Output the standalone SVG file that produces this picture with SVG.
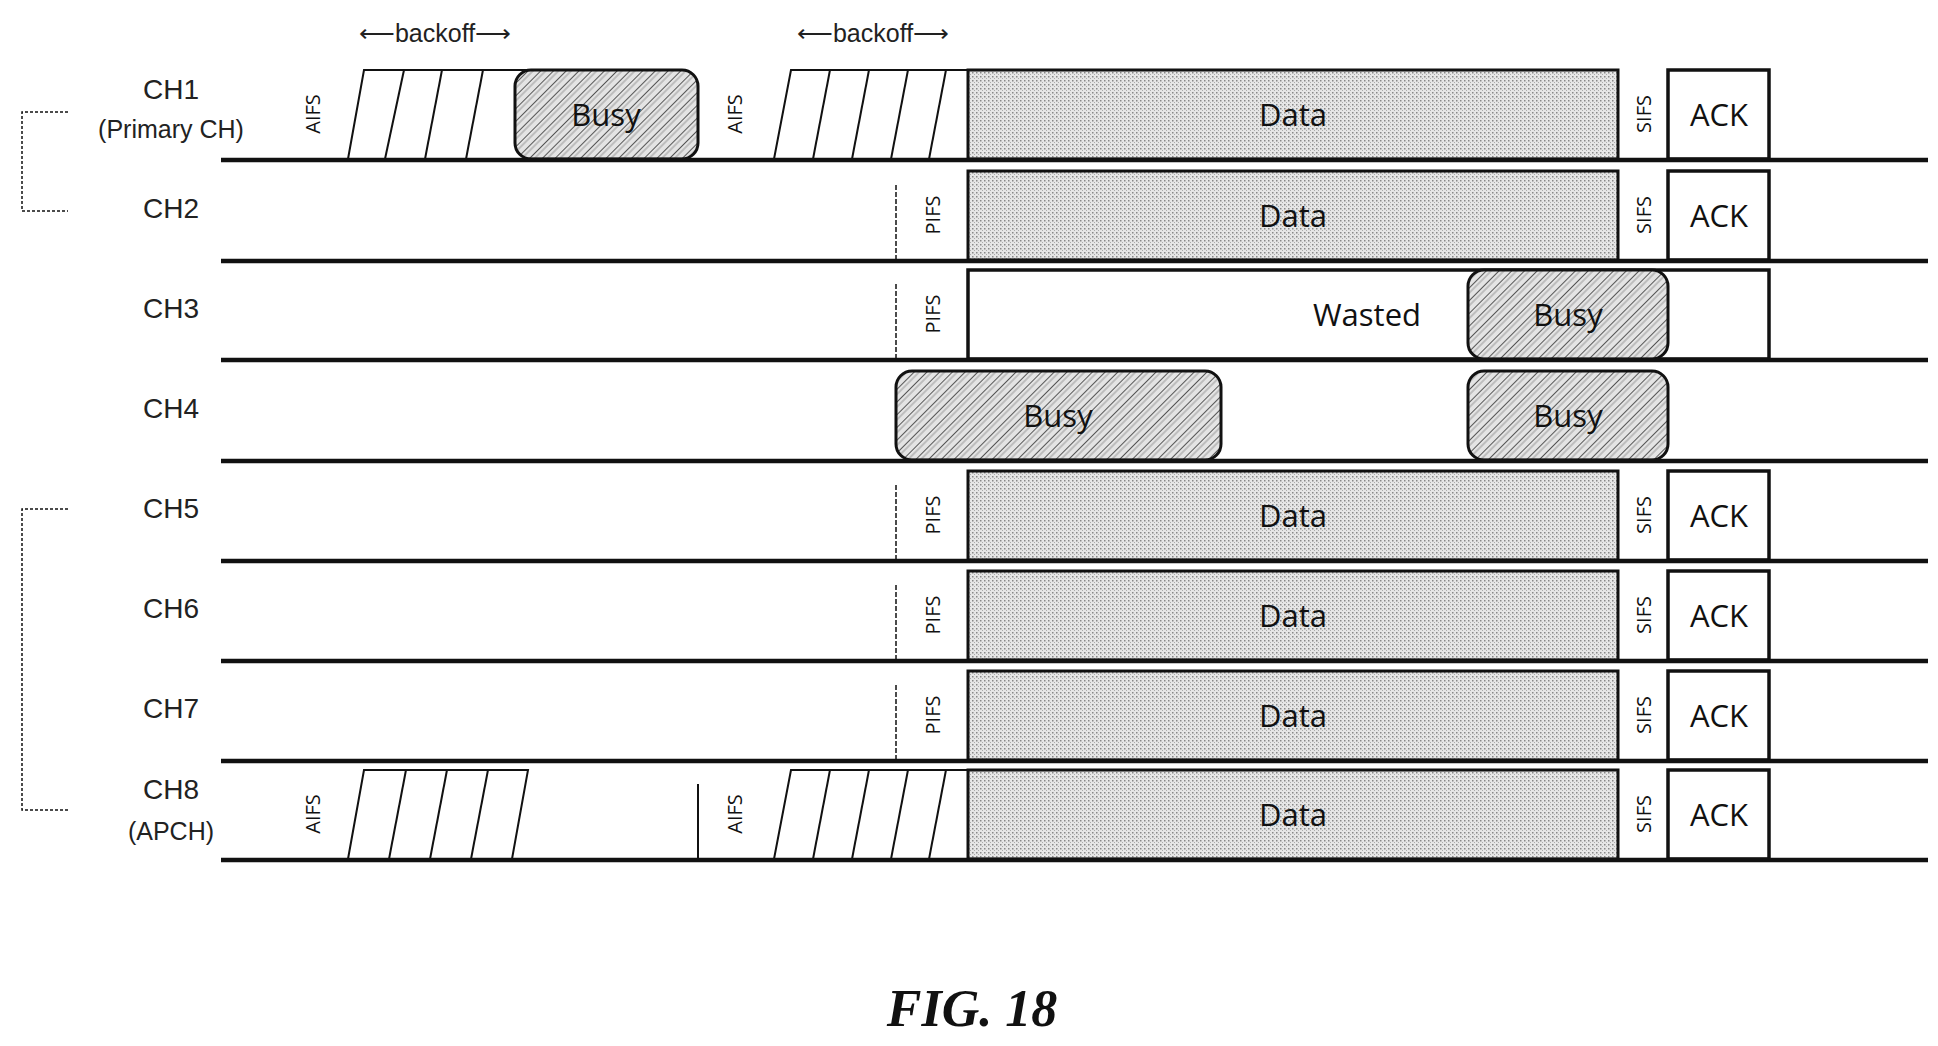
<svg xmlns="http://www.w3.org/2000/svg" width="1938" height="1046" viewBox="0 0 1938 1046">
<style>
.lbl{font-family:"Liberation Sans",Arial,sans-serif;font-size:28px;fill:#222;text-anchor:middle}
.sm{font-family:"Liberation Sans",Arial,sans-serif;font-size:25px;fill:#222;text-anchor:middle}
.box{font-family:"Open Sans","DejaVu Sans",sans-serif;font-size:31px;fill:#111;text-anchor:middle}
.rot{font-family:"Open Sans","DejaVu Sans",sans-serif;font-size:20px;fill:#111;text-anchor:middle}
.base{stroke:#111;stroke-width:4.5}
.data{fill:url(#dots);stroke:#111;stroke-width:3}
.ack{fill:#fff;stroke:#111;stroke-width:3.5}
.busy{fill:url(#hatch);stroke:#111;stroke-width:3}
.bo{fill:#fff;stroke:#111;stroke-width:2}
.sl{stroke:#111;stroke-width:2}
.dash{stroke:#111;stroke-width:1.5;stroke-dasharray:5 2}
.br{fill:none;stroke:#111;stroke-width:1.5;stroke-dasharray:3 2}
</style>
<defs>
<pattern id="dots" width="4" height="4" patternUnits="userSpaceOnUse">
<rect width="4" height="4" fill="#e6e6e6"/><rect width="1.5" height="1.5" fill="#888"/><rect x="2" y="2" width="1" height="1" fill="#aaa"/>
</pattern>
<pattern id="hatch" width="9" height="9" patternUnits="userSpaceOnUse" patternTransform="rotate(45)">
<rect width="9" height="9" fill="#e4e4e4"/><line x1="0" y1="0" x2="0" y2="9" stroke="#555" stroke-width="2"/><line x1="4" y1="0" x2="4" y2="9" stroke="#999" stroke-width="1"/>
</pattern>
</defs>
<rect width="1938" height="1046" fill="#fff"/>
<g id="labels">
<text class="sm" x="435" y="42">⟵backoff⟶</text>
<text class="sm" x="873" y="42">⟵backoff⟶</text>
<text class="lbl" x="171" y="99">CH1</text>
<text class="sm" x="171" y="138">(Primary CH)</text>
<text class="lbl" x="171" y="218">CH2</text>
<text class="lbl" x="171" y="318">CH3</text>
<text class="lbl" x="171" y="418">CH4</text>
<text class="lbl" x="171" y="518">CH5</text>
<text class="lbl" x="171" y="618">CH6</text>
<text class="lbl" x="171" y="718">CH7</text>
<text class="lbl" x="171" y="799">CH8</text>
<text class="sm" x="171" y="840">(APCH)</text>
<path class="br" d="M68,112 H22 V211 H68"/>
<path class="br" d="M68,509 H22 V810 H68"/>
<text x="972" y="1026" style="font-family:'Liberation Serif',serif;font-size:52px;font-weight:bold;font-style:italic;text-anchor:middle;fill:#111">FIG. 18</text>
</g>
<g id="ch1">
<text class="rot" transform="translate(313,114) rotate(-90)" dy="7">AIFS</text>
<polygon class="bo" points="348,159 364,70 540,70 540,159"/>
<line class="sl" x1="385" y1="159" x2="404" y2="70"/><line class="sl" x1="425" y1="159" x2="442" y2="70"/><line class="sl" x1="466" y1="159" x2="483" y2="70"/>
<rect class="busy" x="515" y="70" width="183" height="89" rx="16"/>
<text class="box" x="606" y="126">Busy</text>
<text class="rot" transform="translate(735,114) rotate(-90)" dy="7">AIFS</text>
<polygon class="bo" points="774,159 791,70 968,70 968,159"/>
<line class="sl" x1="813" y1="159" x2="830" y2="70"/><line class="sl" x1="852" y1="159" x2="869" y2="70"/><line class="sl" x1="891" y1="159" x2="908" y2="70"/><line class="sl" x1="929" y1="159" x2="946" y2="70"/>
<rect class="data" x="968" y="70" width="650" height="89"/><text class="box" x="1293" y="126">Data</text>
<text class="rot" transform="translate(1644,114) rotate(-90)" dy="7">SIFS</text>
<rect class="ack" x="1668" y="70" width="101" height="89"/><text class="box" x="1719" y="126">ACK</text>
</g>
<g id="ch2">
<line class="dash" x1="896" y1="185" x2="896" y2="260"/>
<text class="rot" transform="translate(933,215) rotate(-90)" dy="7">PIFS</text>
<rect class="data" x="968" y="171" width="650" height="89"/><text class="box" x="1293" y="227">Data</text>
<text class="rot" transform="translate(1644,215) rotate(-90)" dy="7">SIFS</text>
<rect class="ack" x="1668" y="171" width="101" height="89"/><text class="box" x="1719" y="227">ACK</text>
</g>
<g id="ch3">
<line class="dash" x1="896" y1="284" x2="896" y2="359"/>
<text class="rot" transform="translate(933,314) rotate(-90)" dy="7">PIFS</text>
<rect class="ack" x="968" y="270" width="801" height="89"/>
<text class="box" x="1367" y="326">Wasted</text>
<rect class="busy" x="1468" y="270" width="200" height="89" rx="16"/><text class="box" x="1568" y="326">Busy</text>
</g>
<g id="ch4">
<rect class="busy" x="896" y="371" width="325" height="89" rx="16"/><text class="box" x="1058" y="427">Busy</text>
<rect class="busy" x="1468" y="371" width="200" height="89" rx="16"/><text class="box" x="1568" y="427">Busy</text>
</g>
<g id="ch5">
<line class="dash" x1="896" y1="485" x2="896" y2="560"/>
<text class="rot" transform="translate(933,515) rotate(-90)" dy="7">PIFS</text>
<rect class="data" x="968" y="471" width="650" height="89"/><text class="box" x="1293" y="527">Data</text>
<text class="rot" transform="translate(1644,515) rotate(-90)" dy="7">SIFS</text>
<rect class="ack" x="1668" y="471" width="101" height="89"/><text class="box" x="1719" y="527">ACK</text>
</g>
<g id="ch6">
<line class="dash" x1="896" y1="585" x2="896" y2="660"/>
<text class="rot" transform="translate(933,615) rotate(-90)" dy="7">PIFS</text>
<rect class="data" x="968" y="571" width="650" height="89"/><text class="box" x="1293" y="627">Data</text>
<text class="rot" transform="translate(1644,615) rotate(-90)" dy="7">SIFS</text>
<rect class="ack" x="1668" y="571" width="101" height="89"/><text class="box" x="1719" y="627">ACK</text>
</g>
<g id="ch7">
<line class="dash" x1="896" y1="685" x2="896" y2="760"/>
<text class="rot" transform="translate(933,715) rotate(-90)" dy="7">PIFS</text>
<rect class="data" x="968" y="671" width="650" height="89"/><text class="box" x="1293" y="727">Data</text>
<text class="rot" transform="translate(1644,715) rotate(-90)" dy="7">SIFS</text>
<rect class="ack" x="1668" y="671" width="101" height="89"/><text class="box" x="1719" y="727">ACK</text>
</g>
<g id="ch8">
<text class="rot" transform="translate(313,814) rotate(-90)" dy="7">AIFS</text>
<polygon class="bo" points="348,859 364,770 528,770 512,859"/>
<line class="sl" x1="389" y1="859" x2="406" y2="770"/><line class="sl" x1="430" y1="859" x2="447" y2="770"/><line class="sl" x1="471" y1="859" x2="488" y2="770"/>
<line class="sl" x1="698" y1="784" x2="698" y2="859" stroke-width="1.5"/>
<text class="rot" transform="translate(735,814) rotate(-90)" dy="7">AIFS</text>
<polygon class="bo" points="774,859 791,770 968,770 968,859"/>
<line class="sl" x1="813" y1="859" x2="830" y2="770"/><line class="sl" x1="852" y1="859" x2="869" y2="770"/><line class="sl" x1="891" y1="859" x2="908" y2="770"/><line class="sl" x1="929" y1="859" x2="946" y2="770"/>
<rect class="data" x="968" y="770" width="650" height="89"/><text class="box" x="1293" y="826">Data</text>
<text class="rot" transform="translate(1644,814) rotate(-90)" dy="7">SIFS</text>
<rect class="ack" x="1668" y="770" width="101" height="89"/><text class="box" x="1719" y="826">ACK</text>
</g>
<g id="connectors">
<line class="base" x1="221" y1="160" x2="1928" y2="160"/>
<line class="base" x1="221" y1="261" x2="1928" y2="261"/>
<line class="base" x1="221" y1="360" x2="1928" y2="360"/>
<line class="base" x1="221" y1="461" x2="1928" y2="461"/>
<line class="base" x1="221" y1="561" x2="1928" y2="561"/>
<line class="base" x1="221" y1="661" x2="1928" y2="661"/>
<line class="base" x1="221" y1="761" x2="1928" y2="761"/>
<line class="base" x1="221" y1="860" x2="1928" y2="860"/>
</g>
</svg>
